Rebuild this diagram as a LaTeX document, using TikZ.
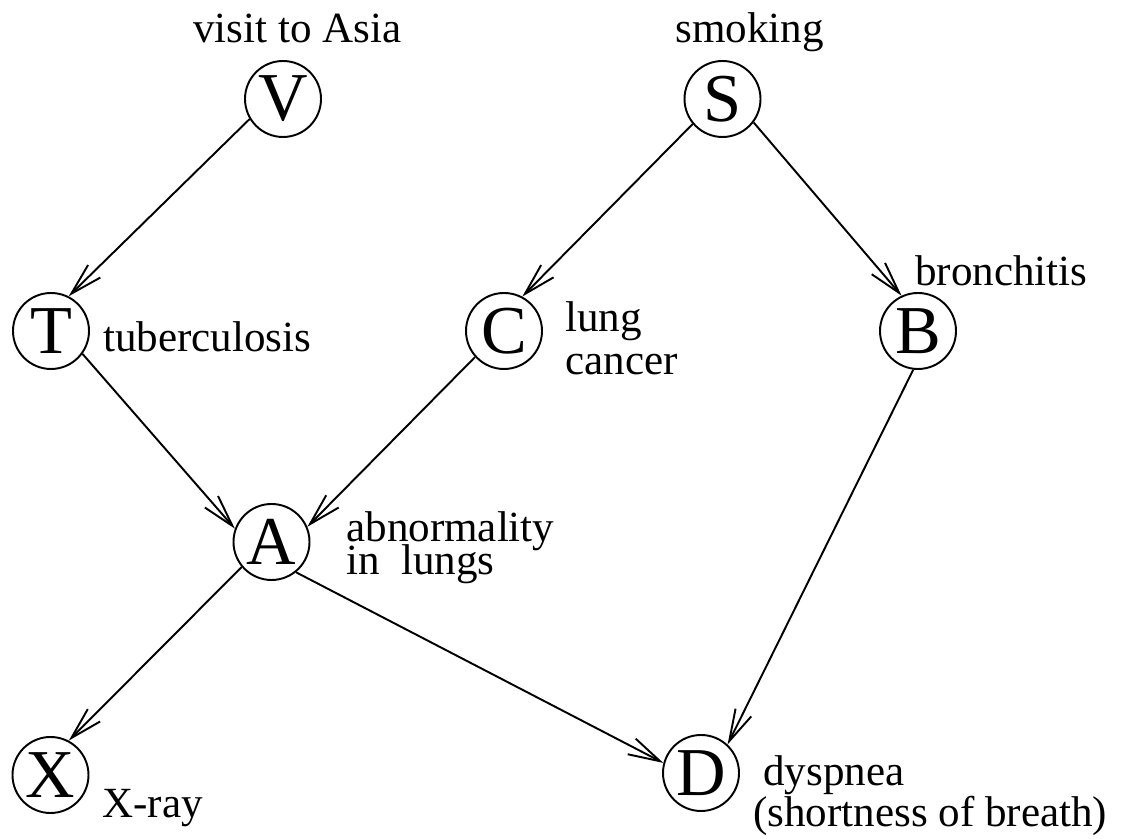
\documentclass[tikz,border=0pt]{standalone}
\usepackage{fontspec}
\setmainfont{Liberation Serif}
\usetikzlibrary{arrows.meta}

\begin{document}
\begin{tikzpicture}[
    var/.style={draw,circle,line width=1.1pt,minimum size=1.52cm,inner sep=0pt,
        font=\fontsize{39}{39}\selectfont},
    lbl/.style={anchor=base west,inner sep=0pt,font=\fontsize{24.5}{24.5}\selectfont},
    dep/.style={line width=1.1pt,-{Straight Barb[length=0.64cm,width=0.35cm]}}
]
\useasboundingbox (0,0) rectangle (22.58,16.78);

% === Variables ===
\node[var] (V) at (5.66,14.80) {V};
\node[var] (S) at (14.45,14.80) {S};
\node[var] (T) at (1.02,10.16) {T};
\node[var] (C) at (10.08,10.16) {C};
\node[var] (B) at (18.36,10.16) {B};
\node[var] (A) at (5.43,5.94) {A};
\node[var] (X) at (1.01,1.28) {X};
\node[var] (D) at (14.02,1.32) {D};

% === Labels ===
\node[lbl,anchor=base] (visit) at (5.95,15.92) {visit to Asia};
\node[lbl,anchor=base] (smoking) at (14.99,15.92) {smoking};
\node[lbl] (tuberc) at (2.06,9.74) {tuberculosis};
\node[lbl] (lung) at (11.30,10.14) {lung};
\node[lbl] (cancer) at (11.30,9.28) {cancer};
\node[lbl] (bronch) at (18.30,11.06) {bronchitis};
\node[lbl] (abnorm) at (6.92,5.94) {abnormality};
\node[lbl] (inlungs) at (6.92,5.28) {in\ \ lungs};
\node[lbl] (xray) at (2.04,0.42) {X-ray};
\node[lbl] (dysp) at (15.26,1.06) {dyspnea};
\node[lbl] (breath) at (15.06,0.24) {(shortness of breath)};

% === Dependencies ===
\draw[dep] (V.211) -- (T.63);
\draw[dep] (S.220) -- (C.62);
\draw[dep] (S.323) -- (B.115);
\draw[dep] (T.324) -- (A.160);
\draw[dep] (C.222) -- (A.23);
\draw[dep] (A.220) -- (X.62);
\draw[dep] (A.309) -- (D.165);
\draw[dep] (B.263) -- (D.47);

\end{tikzpicture}
\end{document}
